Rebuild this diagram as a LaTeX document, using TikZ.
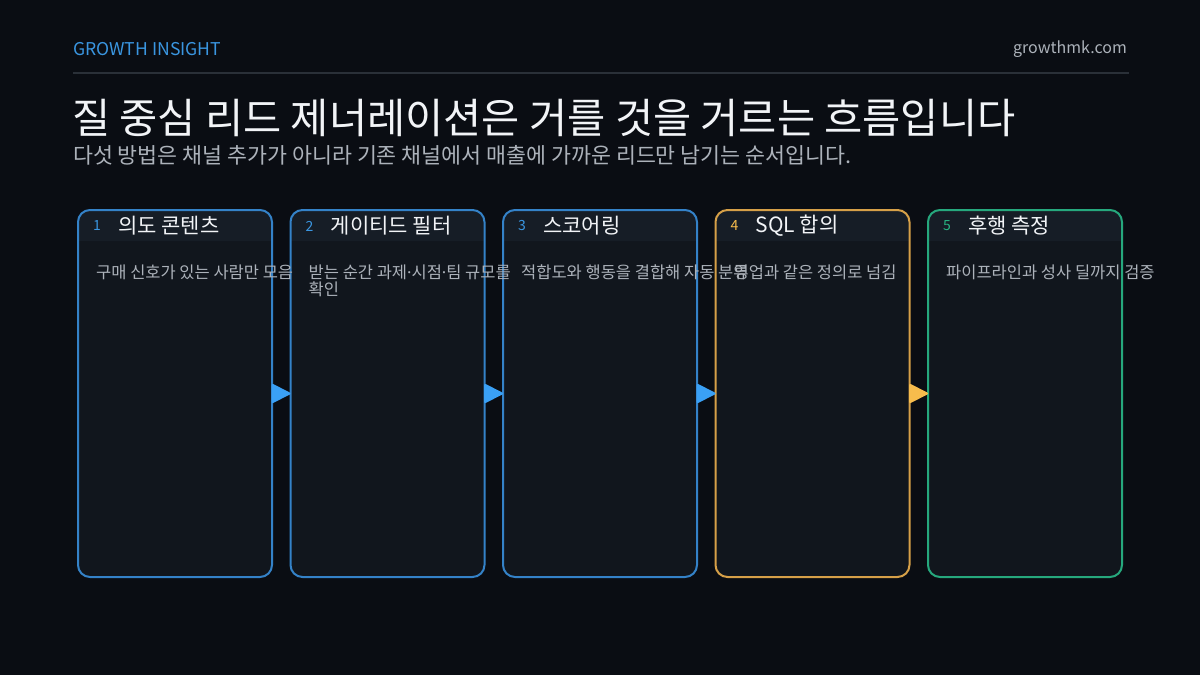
\documentclass[tikz,border=0pt]{standalone}
\usepackage{fontspec}
\setmainfont{Noto Sans CJK KR}
\newfontfamily\latinsans{Noto Sans}
\usetikzlibrary{positioning,calc,arrows.meta}

\definecolor{pagebg}{RGB}{10,13,19}
\definecolor{cardbg}{RGB}{17,22,29}
\definecolor{headbg}{RGB}{22,29,38}
\definecolor{rulegray}{RGB}{42,48,56}
\definecolor{cblue}{RGB}{52,130,200}
\definecolor{ablue}{RGB}{58,160,245}
\definecolor{nblue}{RGB}{58,150,225}
\definecolor{cgold}{RGB}{214,160,72}
\definecolor{agold}{RGB}{247,188,76}
\definecolor{cgreen}{RGB}{38,168,125}
\definecolor{ngreen}{RGB}{40,180,130}
\definecolor{softgray}{RGB}{172,178,186}
\definecolor{titlewhite}{RGB}{242,244,247}

\newcommand{\middot}{{\latinsans ·}}

\begin{document}
\begin{tikzpicture}[x=1pt,y=-1pt,
  card/.style={fill=cardbg,rounded corners=12pt,minimum width=194pt,minimum height=367pt,inner sep=0pt,outer sep=0pt},
  rim/.style={line width=2pt,rounded corners=12pt},
  numtxt/.style={inner sep=0pt,font=\fontsize{14}{16}\selectfont},
  headtxt/.style={inner sep=0pt,text=titlewhite,font=\fontsize{21}{24}\selectfont},
  bodytxt/.style={inner sep=0pt,anchor=north west,align=left,text=softgray,font=\fontsize{16.5}{17}\selectfont},
  flow/.style={line width=2pt,-{Triangle[round,length=20pt,width=20pt]}}]
\fill [pagebg] (0,0) rectangle (1200,675);

% top bar
\node (brand) at (73,49) [anchor=west,inner sep=0pt,text=nblue,font=\fontsize{17.6}{19}\selectfont] {GROWTH INSIGHT};
\node (site) at (1127,49) [anchor=east,inner sep=0pt,text=softgray,font=\fontsize{16}{18}\selectfont] {growthmk.com};
\draw [rulegray,line width=2pt] (73,73) -- (1129,73);

% heading
\node (title) at (72,118) [anchor=west,inner sep=0pt,text=titlewhite,font=\fontsize{41.5}{46}\selectfont] {질 중심 리드 제너레이션은 거를 것을 거르는 흐름입니다};
\node (subtitle) at (73,155) [anchor=west,inner sep=0pt,text=softgray,font=\fontsize{21.7}{24}\selectfont] {다섯 방법은 채널 추가가 아니라 기존 채널에서 매출에 가까운 리드만 남기는 순서입니다.};

% card 1
\node [card] (c1) at (175,393.5) {};
\fill [headbg,rounded corners=11pt] (c1.north west) rectangle ($(c1.north east)+(0,31)$);
\fill [headbg] ($(c1.north west)+(0,16)$) rectangle ($(c1.north east)+(0,31)$);
\draw [rim,cblue] (c1.north west) rectangle (c1.south east);
\node [numtxt,text=nblue] (n1) at ($(c1.north west)+(19,16)$) {1};
\node [headtxt,right=17pt of n1] (h1) {의도 콘텐츠};

% card 2
\node [card] (c2) at (387.5,393.5) {};
\fill [headbg,rounded corners=11pt] (c2.north west) rectangle ($(c2.north east)+(0,31)$);
\fill [headbg] ($(c2.north west)+(0,16)$) rectangle ($(c2.north east)+(0,31)$);
\draw [rim,cblue] (c2.north west) rectangle (c2.south east);
\node [numtxt,text=nblue] (n2) at ($(c2.north west)+(19,16)$) {2};
\node [headtxt,right=17pt of n2] (h2) {게이티드 필터};

% card 3
\node [card] (c3) at (600,393.5) {};
\fill [headbg,rounded corners=11pt] (c3.north west) rectangle ($(c3.north east)+(0,31)$);
\fill [headbg] ($(c3.north west)+(0,16)$) rectangle ($(c3.north east)+(0,31)$);
\draw [rim,cblue] (c3.north west) rectangle (c3.south east);
\node [numtxt,text=nblue] (n3) at ($(c3.north west)+(19,16)$) {3};
\node [headtxt,right=17pt of n3] (h3) {스코어링};

% card 4
\node [card] (c4) at (812.5,393.5) {};
\fill [headbg,rounded corners=11pt] (c4.north west) rectangle ($(c4.north east)+(0,31)$);
\fill [headbg] ($(c4.north west)+(0,16)$) rectangle ($(c4.north east)+(0,31)$);
\draw [rim,cgold] (c4.north west) rectangle (c4.south east);
\node [numtxt,text=agold] (n4) at ($(c4.north west)+(19,16)$) {4};
\node [headtxt,right=17pt of n4] (h4) {SQL 합의};

% card 5
\node [card] (c5) at (1025,393.5) {};
\fill [headbg,rounded corners=11pt] (c5.north west) rectangle ($(c5.north east)+(0,31)$);
\fill [headbg] ($(c5.north west)+(0,16)$) rectangle ($(c5.north east)+(0,31)$);
\draw [rim,cgreen] (c5.north west) rectangle (c5.south east);
\node [numtxt,text=ngreen] (n5) at ($(c5.north west)+(19,16)$) {5};
\node [headtxt,right=17pt of n5] (h5) {후행 측정};

% card texts, on top of everything
\node [bodytxt] (b1) at ($(c1.north west)+(18,55)$) {구매 신호가 있는 사람만 모음};
\node [bodytxt] (b2) at ($(c2.north west)+(18,55)$) {받는 순간 과제\middot 시점\middot 팀 규모를\\확인};
\node [bodytxt] (b3) at ($(c3.north west)+(18,55)$) {적합도와 행동을 결합해 자동 분류};
\node [bodytxt] (b4) at ($(c4.north west)+(18,55)$) {영업과 같은 정의로 넘김};
\node [bodytxt] (b5) at ($(c5.north west)+(18,55)$) {파이프라인과 성사 딜까지 검증};

% arrows
\draw [flow,ablue] (c1) -- (c2);
\draw [flow,ablue] (c2) -- (c3);
\draw [flow,ablue] (c3) -- (c4);
\draw [flow,agold] (c4) -- (c5);
\end{tikzpicture}
\end{document}
